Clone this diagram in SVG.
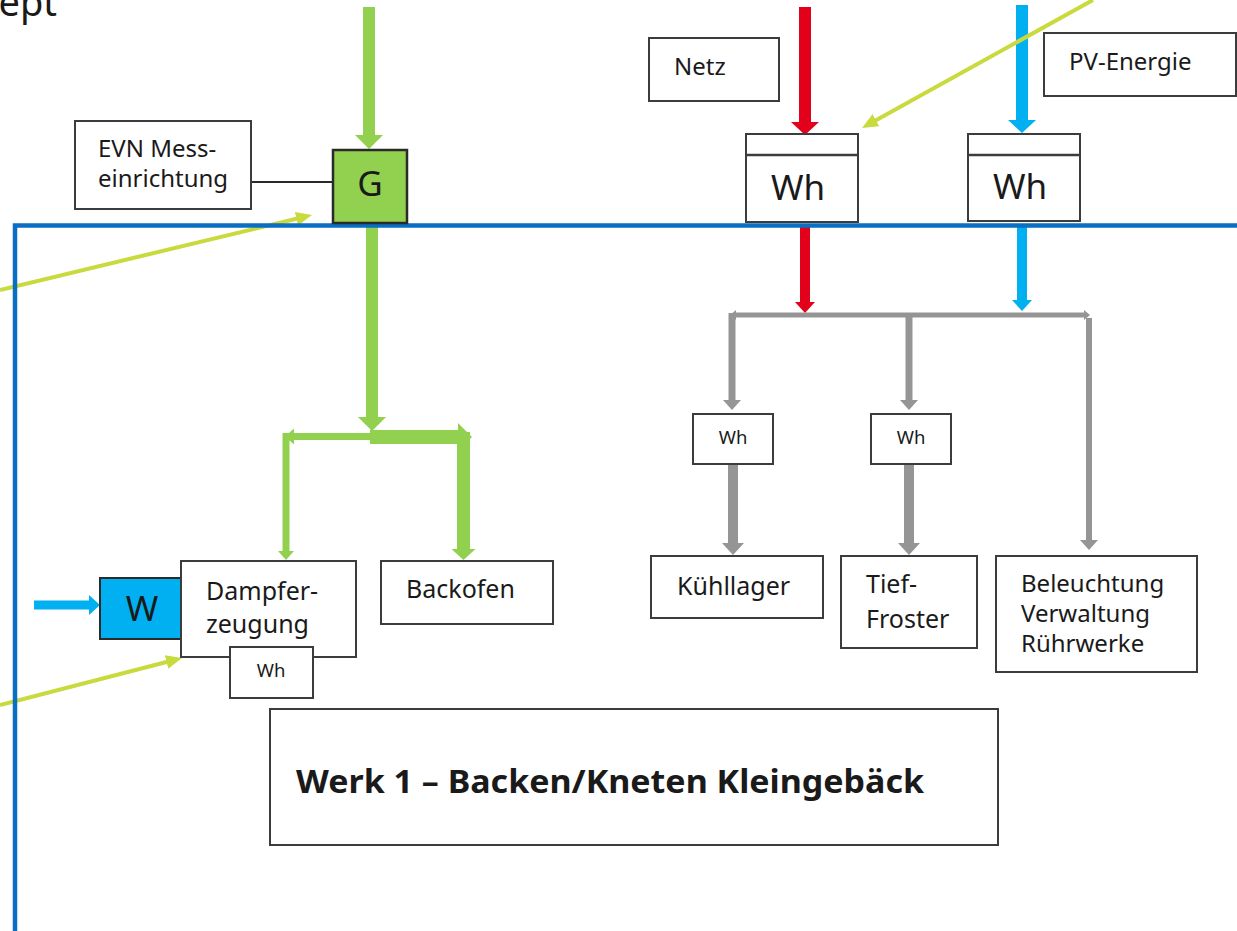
<svg xmlns="http://www.w3.org/2000/svg" width="1237" height="931" viewBox="0 0 1237 931">
<style>
text{font-family:"Noto Sans","Liberation Sans",sans-serif;fill:#1a1a1a}
.box{fill:#fff;stroke:#3c3c3c;stroke-width:2}
.g{stroke:#92D050;fill:none}
.r{stroke:#E2001A;fill:none}
.b{stroke:#00B0F0;fill:none}
.k{stroke:#959595;fill:none}
.y{stroke:#C9DA3E;fill:none;stroke-width:4}
.fg{fill:#92D050}.fr{fill:#E2001A}.fb{fill:#00B0F0}.fk{fill:#959595}.fy{fill:#C9DA3E}
.lbl{font-size:24px}
.lbl2{font-size:25px}
.big{font-size:35px;text-anchor:middle}
.sm{font-size:18.5px;text-anchor:middle}
</style>
<defs>
<marker id="gH" viewBox="0 0 14 28" refX="1" refY="14" markerWidth="14" markerHeight="28" markerUnits="userSpaceOnUse" orient="auto"><path class="fg" d="M0,0L14,14L0,28z"/></marker>
<marker id="gM" viewBox="0 0 11 24" refX="1" refY="12" markerWidth="11" markerHeight="24" markerUnits="userSpaceOnUse" orient="auto"><path class="fg" d="M0,0L11,12L0,24z"/></marker>
<marker id="gS" viewBox="0 0 9 16" refX="1" refY="8" markerWidth="9" markerHeight="16" markerUnits="userSpaceOnUse" orient="auto"><path class="fg" d="M0,0L9,8L0,16z"/></marker>
<marker id="rH" viewBox="0 0 13 28" refX="1" refY="14" markerWidth="13" markerHeight="28" markerUnits="userSpaceOnUse" orient="auto"><path class="fr" d="M0,0L13,14L0,28z"/></marker>
<marker id="rS" viewBox="0 0 11 20" refX="1" refY="10" markerWidth="11" markerHeight="20" markerUnits="userSpaceOnUse" orient="auto"><path class="fr" d="M0,0L11,10L0,20z"/></marker>
<marker id="bH" viewBox="0 0 13 28" refX="1" refY="14" markerWidth="13" markerHeight="28" markerUnits="userSpaceOnUse" orient="auto"><path class="fb" d="M0,0L13,14L0,28z"/></marker>
<marker id="bS" viewBox="0 0 11 20" refX="1" refY="10" markerWidth="11" markerHeight="20" markerUnits="userSpaceOnUse" orient="auto"><path class="fb" d="M0,0L11,10L0,20z"/></marker>
<marker id="kT" viewBox="0 0 10 18" refX="1" refY="9" markerWidth="10" markerHeight="18" markerUnits="userSpaceOnUse" orient="auto"><path class="fk" d="M0,0L10,9L0,18z"/></marker>
<marker id="kK" viewBox="0 0 12 22" refX="1" refY="11" markerWidth="12" markerHeight="22" markerUnits="userSpaceOnUse" orient="auto"><path class="fk" d="M0,0L12,11L0,22z"/></marker>
<marker id="kB" viewBox="0 0 6 10" refX="1" refY="5" markerWidth="6" markerHeight="10" markerUnits="userSpaceOnUse" orient="auto-start-reverse"><path class="fk" d="M0,0L6,5L0,10z"/></marker>
<marker id="yP" viewBox="0 0 16 14" refX="1" refY="7" markerWidth="16" markerHeight="14" markerUnits="userSpaceOnUse" orient="auto"><path class="fy" d="M0,0L16,7L0,14z"/></marker>
</defs>
<rect width="1237" height="931" fill="#fff"/>
<text x="57" y="16" font-size="38" text-anchor="end">ept</text>

<g id="connectors">
<line class="g" x1="369" y1="7" x2="369" y2="136" stroke-width="12" marker-end="url(#gH)"/>
<line class="g" x1="372" y1="226" x2="372" y2="418" stroke-width="12" marker-end="url(#gH)"/>
<line class="g" x1="372" y1="436.5" x2="293" y2="436.5" stroke-width="7" marker-end="url(#gS)"/>
<line class="g" x1="370" y1="437" x2="459" y2="437" stroke-width="14" marker-end="url(#gH)"/>
<line class="g" x1="286" y1="433" x2="286" y2="552" stroke-width="7" marker-end="url(#gS)"/>
<line class="g" x1="463.5" y1="432" x2="463.5" y2="550" stroke-width="13" marker-end="url(#gM)"/>
<line class="r" x1="805" y1="7" x2="805" y2="123" stroke-width="12" marker-end="url(#rH)"/>
<line class="r" x1="805" y1="227" x2="805" y2="303" stroke-width="10" marker-end="url(#rS)"/>
<line class="b" x1="1022" y1="5" x2="1022" y2="121" stroke-width="12" marker-end="url(#bH)"/>
<line class="b" x1="1022" y1="227" x2="1022" y2="301" stroke-width="10" marker-end="url(#bS)"/>
<line class="b" x1="34" y1="605" x2="90" y2="605" stroke-width="9" marker-end="url(#bS)"/>
<line class="k" x1="735" y1="315" x2="1085" y2="315" stroke-width="5" marker-start="url(#kB)" marker-end="url(#kB)"/>
<line class="k" x1="732" y1="313" x2="732" y2="401" stroke-width="7" marker-end="url(#kT)"/>
<line class="k" x1="909" y1="315" x2="909" y2="401" stroke-width="7" marker-end="url(#kT)"/>
<line class="k" x1="1089" y1="318" x2="1089" y2="541" stroke-width="6" marker-end="url(#kT)"/>
<line class="k" x1="733" y1="464" x2="733" y2="544" stroke-width="10" marker-end="url(#kK)"/>
<line class="k" x1="909" y1="464" x2="909" y2="544" stroke-width="10" marker-end="url(#kK)"/>
<line x1="251" y1="182" x2="333" y2="182" stroke="#2a2a2a" stroke-width="2"/>
<line class="y" x1="0" y1="290" x2="297.4" y2="218.5" marker-end="url(#yP)"/>
<line class="y" x1="1093" y1="0" x2="875.1" y2="120.7" marker-end="url(#yP)"/>
<line class="y" x1="0" y1="705" x2="167.5" y2="661.7" marker-end="url(#yP)"/>
</g>

<path id="frame" d="M1237,225.5H15V931" fill="none" stroke="#0A6FC2" stroke-width="4.5"/>

<g id="evn"><rect class="box" x="75" y="121" width="176" height="88"/>
<text class="lbl" x="98" y="157">EVN Mess-</text><text class="lbl" x="98" y="187">einrichtung</text></g>
<g id="g-meter"><rect x="333" y="150" width="74" height="73" fill="#92D050" stroke="#2a2a2a" stroke-width="2.5"/>
<text class="big" x="370" y="196" font-size="33">G</text></g>
<g id="netz"><rect class="box" x="649" y="38" width="130" height="63"/><text class="lbl" x="674" y="75">Netz</text></g>
<g id="pv"><rect class="box" x="1044" y="33" width="192" height="63"/><text class="lbl" x="1069" y="70">PV-Energie</text></g>
<g id="wh-netz"><rect class="box" x="746" y="134" width="112" height="88"/><line x1="746" y1="155" x2="858" y2="155" stroke="#3c3c3c" stroke-width="2.5"/>
<text class="big" x="798" y="200">Wh</text></g>
<g id="wh-pv"><rect class="box" x="968" y="134" width="112" height="87"/><line x1="968" y1="155" x2="1080" y2="155" stroke="#3c3c3c" stroke-width="2.5"/>
<text class="big" x="1020" y="199">Wh</text></g>
<g id="wh-kuehl"><rect class="box" x="693" y="414" width="80" height="50"/><text class="sm" x="733" y="444">Wh</text></g>
<g id="wh-tief"><rect class="box" x="871" y="414" width="80" height="50"/><text class="sm" x="911" y="444">Wh</text></g>
<g id="kuehllager"><rect class="box" x="651" y="556" width="172" height="62"/><text class="lbl2" x="677" y="595">Kühllager</text></g>
<g id="tiefroster"><rect class="box" x="841" y="556" width="136" height="92"/><text class="lbl2" x="866" y="593">Tief-</text><text class="lbl2" x="866" y="628">Froster</text></g>
<g id="beleuchtung"><rect class="box" x="996" y="556" width="201" height="116"/>
<text class="lbl" x="1021" y="592">Beleuchtung</text><text class="lbl" x="1021" y="622">Verwaltung</text><text class="lbl" x="1021" y="652">Rührwerke</text></g>
<g id="w-meter"><rect x="100" y="578" width="81" height="61" fill="#00B0F0" stroke="#2a2a2a" stroke-width="2"/>
<text class="big" x="142" y="621" font-size="32">W</text></g>
<g id="dampf"><rect class="box" x="181" y="561" width="175" height="96"/>
<text class="lbl2" x="206" y="600">Dampfer-</text><text class="lbl2" x="206" y="633">zeugung</text></g>
<g id="wh-dampf"><rect class="box" x="230" y="647" width="83" height="51"/><text class="sm" x="271" y="677">Wh</text></g>
<g id="backofen"><rect class="box" x="381" y="561" width="172" height="63"/><text class="lbl2" x="406" y="598">Backofen</text></g>
<g id="werk"><rect class="box" x="270" y="709" width="728" height="136"/>
<text x="296" y="793" font-size="32" font-weight="bold" textLength="628" lengthAdjust="spacingAndGlyphs">Werk 1 – Backen/Kneten Kleingebäck</text></g>
</svg>
